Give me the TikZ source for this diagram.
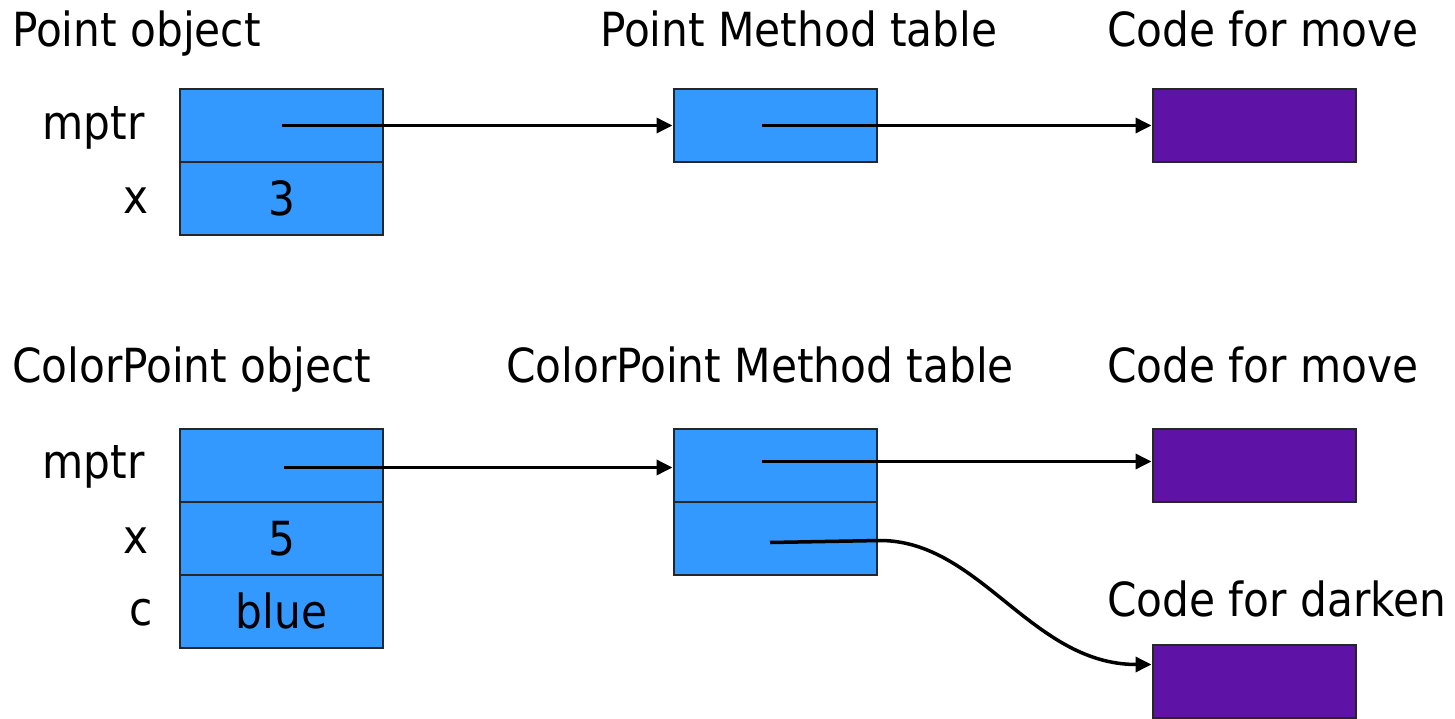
\documentclass[tikz,border=0pt]{standalone}
\usepackage{fontspec}
\setmainfont{DejaVu Sans Condensed}
\usetikzlibrary{arrows.meta}
\definecolor{cellblue}{HTML}{3399FF}
\definecolor{codepurple}{HTML}{5E12A6}
\tikzset{
  cell/.style={draw=black!85, line width=2pt, fill=cellblue, minimum width=203pt, minimum height=73pt, inner sep=0pt, font=\fontsize{47}{56}\selectfont},
  code/.style={draw=black!85, line width=2pt, fill=codepurple, minimum width=203pt, minimum height=73pt, inner sep=0pt},
  title/.style={anchor=base west, inner sep=0pt, font=\fontsize{47}{56}\selectfont},
  field/.style={anchor=base east, inner sep=0pt, font=\fontsize{47}{56}\selectfont},
  ptr/.style={line width=3.5pt, -{Triangle[length=16pt,width=15pt]}}
}
\begin{document}
\begin{tikzpicture}[x=1pt,y=-1pt]
\useasboundingbox (0,0) rectangle (1455,719);

% titles
\node[title] (t1) at (12,47) {Point object};
\node[title] (t2) at (600,47) {Point Method table};
\node[title] (t3) at (1107,47) {Code for move};
\node[title] (t4) at (12,382) {ColorPoint object};
\node[title] (t5) at (506,382) {ColorPoint Method table};
\node[title] (t6) at (1107,382) {Code for move};
\node[title] (t7) at (1107,616) {Code for darken};

% Point object
\node[cell] (p1) at (281.5,125.5) {};
\node[cell] (p2) at (281.5,198.5) {3};
\node[field] (f1) at (145,140) {mptr};
\node[field] (f2) at (149,214) {x};

% Point method table and code
\node[cell] (pm1) at (775,125.5) {};
\node[code] (mv1) at (1254,125.5) {};

% ColorPoint object
\node[cell] (c1) at (281.5,465.5) {};
\node[cell] (c2) at (281.5,538.5) {5};
\node[cell] (c3) at (281.5,611) {blue};
\node[field] (g1) at (145,478) {mptr};
\node[field] (g2) at (149,553) {x};
\node[field] (g3) at (153,625) {c};

% ColorPoint method table and code
\node[cell] (cm1) at (775,465.5) {};
\node[cell] (cm2) at (775,538.5) {};
\node[code] (mv2) at (1254,465.5) {};
\node[code] (dk) at (1254,681.5) {};

% pointers
\draw[ptr] (p1.center) -- (pm1.west);
\draw[ptr] ([xshift=-13pt]pm1.center) -- (mv1.west);
\draw[ptr] ([xshift=2pt,yshift=-2pt]c1.center) -- ([yshift=-2pt]cm1.west);
\draw[ptr] ([xshift=-13pt,yshift=4pt]cm1.center) -- ([yshift=4pt]mv2.west);
\draw[ptr] ([xshift=-5pt,yshift=-4pt]cm2.center) -- ([xshift=105pt,yshift=-2pt]cm2.center)
  .. controls +(100,0) and +(-120,0) .. ([yshift=17pt]dk.west);
\end{tikzpicture}
\end{document}
